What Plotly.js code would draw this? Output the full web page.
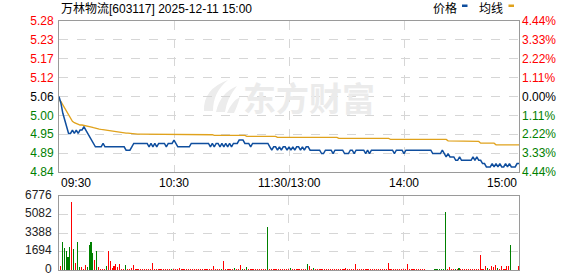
<!DOCTYPE html>
<html><head><meta charset="utf-8">
<script src="https://cdn.plot.ly/plotly-3.0.1.min.js"></script>
<style>html,body{margin:0;padding:0;background:#fff;overflow:hidden}#c{width:578px;height:276px}</style>
</head><body><div id="c"></div>
<script>
const chartTitle = "万林物流[603117] 2025-12-11 15:00";
const legendNames = ["价格", "均线"];
const preClose = 5.06;
const priceRange = [4.835, 5.285];
const priceLabels = ["4.84","4.89","4.95","5.00","5.06","5.12","5.17","5.23","5.28"];
const pctLabels = ["4.44%","3.33%","2.22%","1.11%","0.00%","1.11%","2.22%","3.33%","4.44%"];
const volTicks = [0, 1694, 3388, 5082, 6776];
const timeLabels = ["09:30", "10:30", "11:30/13:00", "14:00", "15:00"];
const timeMinutes = [0, 60, 120, 180, 240];

const price = [
5.06,5.04,5.01,4.99,4.97,4.95,4.95,4.96,4.95,4.96,
4.95,4.96,4.96,4.97,4.96,4.95,4.94,4.93,4.92,4.91,
4.91,4.91,4.91,4.92,4.91,4.91,4.91,4.91,4.91,4.91,
4.91,4.91,4.91,4.91,4.91,4.90,4.90,4.90,4.91,4.92,
4.92,4.92,4.92,4.92,4.92,4.92,4.92,4.91,4.92,4.91,
4.92,4.91,4.92,4.92,4.92,4.92,4.91,4.92,4.92,4.92,
4.93,4.92,4.91,4.91,4.91,4.91,4.91,4.91,4.91,4.92,
4.92,4.92,4.92,4.92,4.92,4.92,4.92,4.92,4.92,4.91,
4.92,4.91,4.92,4.92,4.91,4.92,4.91,4.92,4.91,4.92,
4.91,4.92,4.92,4.92,4.93,4.93,4.93,4.92,4.92,4.92,
4.91,4.92,4.92,4.92,4.92,4.92,4.92,4.92,4.92,4.92,
4.91,4.90,4.91,4.91,4.90,4.91,4.90,4.91,4.91,4.90,
4.91,4.90,4.91,4.90,4.91,4.91,4.90,4.91,4.90,4.91,
4.91,4.90,4.90,4.90,4.90,4.90,4.90,4.89,4.89,4.90,
4.90,4.90,4.90,4.89,4.90,4.90,4.90,4.90,4.90,4.89,
4.89,4.89,4.90,4.90,4.89,4.90,4.90,4.90,4.90,4.90,
4.89,4.90,4.89,4.90,4.90,4.90,4.90,4.90,4.90,4.90,
4.90,4.90,4.90,4.90,4.90,4.89,4.90,4.90,4.90,4.90,
4.89,4.90,4.90,4.90,4.90,4.90,4.90,4.90,4.90,4.90,
4.90,4.90,4.90,4.90,4.90,4.89,4.89,4.89,4.89,4.89,
4.90,4.89,4.88,4.89,4.88,4.88,4.88,4.87,4.87,4.88,
4.87,4.87,4.87,4.87,4.87,4.87,4.88,4.87,4.88,4.87,
4.87,4.86,4.86,4.85,4.85,4.85,4.86,4.85,4.86,4.85,
4.86,4.85,4.85,4.86,4.85,4.86,4.85,4.85,4.85,4.86,
4.86];

const avgPrice = [
5.050,5.045,5.035,5.025,5.016,5.005,4.996,4.986,4.982,4.979,
4.976,4.975,4.975,4.974,4.974,4.973,4.970,4.969,4.967,4.965,
4.964,4.963,4.962,4.961,4.960,4.959,4.958,4.957,4.956,4.955,
4.955,4.954,4.953,4.952,4.952,4.951,4.951,4.950,4.950,4.949,
4.949,4.948,4.948,4.948,4.948,4.948,4.948,4.948,4.948,4.948,
4.948,4.947,4.947,4.947,4.947,4.947,4.947,4.947,4.947,4.947,
4.947,4.947,4.947,4.947,4.946,4.946,4.946,4.946,4.946,4.946,
4.946,4.946,4.946,4.946,4.946,4.946,4.946,4.946,4.946,4.946,
4.946,4.944,4.944,4.944,4.944,4.944,4.944,4.944,4.944,4.944,
4.944,4.944,4.944,4.944,4.944,4.944,4.944,4.944,4.941,4.941,
4.941,4.941,4.941,4.941,4.941,4.941,4.941,4.941,4.941,4.941,
4.941,4.941,4.941,4.941,4.938,4.938,4.938,4.938,4.938,4.938,
4.938,4.938,4.938,4.938,4.938,4.938,4.938,4.938,4.938,4.938,
4.938,4.938,4.938,4.938,4.938,4.938,4.938,4.938,4.938,4.938,
4.938,4.938,4.938,4.938,4.938,4.938,4.935,4.935,4.935,4.935,
4.935,4.935,4.935,4.935,4.935,4.935,4.935,4.935,4.935,4.935,
4.935,4.935,4.935,4.935,4.935,4.935,4.935,4.935,4.935,4.935,
4.935,4.935,4.935,4.932,4.932,4.932,4.932,4.932,4.932,4.932,
4.932,4.932,4.932,4.932,4.932,4.932,4.932,4.932,4.932,4.932,
4.932,4.932,4.932,4.932,4.932,4.932,4.932,4.932,4.932,4.932,
4.932,4.932,4.932,4.928,4.928,4.928,4.928,4.928,4.928,4.926,
4.926,4.926,4.926,4.926,4.926,4.926,4.926,4.926,4.926,4.926,
4.921,4.921,4.921,4.921,4.921,4.921,4.921,4.921,4.916,4.916,
4.916,4.916,4.916,4.916,4.916,4.916,4.916,4.916,4.916,4.916,
4.916];

const volume = [
400,2610,2030,1780,1230,2150,6200,1930,615,2520,
250,300,90,490,250,2330,2610,1535,950,1780,
300,120,90,70,400,1780,800,150,400,580,
250,520,90,70,460,90,60,180,490,120,
90,100,90,120,90,100,70,90,675,90,
100,90,70,120,90,100,90,90,100,90,
120,90,210,90,100,90,90,120,90,100,
90,100,90,90,100,90,90,100,90,90,
400,90,100,90,90,800,90,100,90,90,
90,150,90,100,490,90,90,300,90,100,
90,90,100,90,90,100,90,90,3900,90,
100,90,90,100,90,90,100,90,90,100,
200,90,100,90,90,100,90,90,100,580,
400,90,210,90,100,90,90,100,90,90,
100,90,90,100,90,120,90,90,100,150,
90,100,90,90,580,90,100,90,90,100,
90,90,100,90,90,100,90,90,100,90,
90,675,90,100,90,90,100,90,90,100,
90,580,90,100,90,90,100,90,90,100,
90,0,0,0,0,90,100,90,90,100,
90,5280,90,275,100,90,120,90,150,90,
120,90,100,100,100,90,90,100,90,1410,
90,100,400,200,90,400,250,490,200,120,
340,90,100,400,340,2330,0,0,0,340];

const side =
"udddddudud" + "duuuddddud" + "uuuuduuuuu" + "uuuuduuuuu" +
"uuuuuuuuuu" + "uuuuuuuudu" + "uuuuuuuuuu" + "uuuuuuuuuu" +
"uuuuduuuuu" + "uduuududuu" + "uuuuuuuudu" + "uuuuuuuuuu" +
"duuuuuuuud" + "uuduuuuuuu" + "uuuuuuuuuu" + "uuuuuuuuuu" +
"uuuuuuuuuu" + "uuuuuuuuuu" + "uuuuuuuuuu" + "uuuuuddddd" +
"dduuuududu" + "uuuuuuuuuu" + "uuuduuuudu" + "uuuuuduuuu";

const RED = "#ff0000", GREEN = "#008000", BLACK = "#000000";
const FONT = "Liberation Sans, Arial, Noto Sans CJK SC, sans-serif";

const minutes = price.map((_, i) => i);
const barIdx = volume.map((_, i) => i);
const barColors = volume.map((_, i) => side[i] === "d" ? GREEN : RED);

const nT = priceLabels.length;
const tickVals = priceLabels.map((_, k) => priceRange[0] + k * (priceRange[1] - priceRange[0]) / (nT - 1));
const mid = (nT - 1) / 2;
const colorFor = k => k > mid ? RED : (k < mid ? GREEN : BLACK);
const leftText = priceLabels.map((t, k) => `<span style="color:${colorFor(k)}">${t}</span>`);
const rightText = pctLabels.map((t, k) => `<span style="color:${colorFor(k)}">${t}</span>`);

const traces = [
  {x: minutes, y: avgPrice, type: "scatter", mode: "lines", line: {color: "#e0a21c", width: 1.3}, xaxis: "x", yaxis: "y", hoverinfo: "skip"},
  {x: minutes, y: price, type: "scatter", mode: "lines", line: {color: "#0f4e9e", width: 1.5}, xaxis: "x", yaxis: "y", hoverinfo: "skip"},
  {x: minutes, y: price, type: "scatter", mode: "lines", line: {width: 0}, opacity: 0, xaxis: "x", yaxis: "y3", hoverinfo: "skip"},
  {x: barIdx, y: volume, type: "bar", marker: {color: barColors, line: {width: 0}}, width: 0.55, xaxis: "x2", yaxis: "y2", hoverinfo: "skip"}
];

const gridCol = "#d6d6d6";
const frameCol = "#9a9a9a";
const H = 249, TOP = 21;
const py = px => (TOP + H - px) / H;   // pixel row -> paper y
const pxX = px => (px - 59) / 460;     // pixel col -> paper x

const volDomain = [0, py(196)];
const volRange = [0, 6776];
const volToPaper = v => volDomain[0] + (v - volRange[0]) / (volRange[1] - volRange[0]) * (volDomain[1] - volDomain[0]);

const annotations = [
  {text: chartTitle, xref: "paper", yref: "paper", x: 0, y: py(9), xanchor: "left", yanchor: "middle", showarrow: false, font: {size: 12, color: BLACK, family: FONT}},
  {text: legendNames[0], xref: "paper", yref: "paper", x: pxX(431), y: py(8.5), xanchor: "left", yanchor: "middle", showarrow: false, font: {size: 12, color: BLACK, family: FONT}},
  {text: legendNames[1], xref: "paper", yref: "paper", x: pxX(477), y: py(8.5), xanchor: "left", yanchor: "middle", showarrow: false, font: {size: 12, color: BLACK, family: FONT}},
  {text: "<b>东方财富</b>", xref: "paper", yref: "paper", x: pxX(309), y: py(97), xanchor: "center", yanchor: "middle", showarrow: false, font: {size: 33, color: "#ebebeb", family: "Noto Sans CJK SC, sans-serif"}}
];
const anchors = ["left", "center", "center", "center", "right"];
timeLabels.forEach((t, k) => annotations.push({
  text: t, xref: "x", yref: "paper", x: timeMinutes[k], y: py(182.5), xanchor: anchors[k], yanchor: "middle",
  showarrow: false, font: {size: 12, color: BLACK, family: FONT}
}));
// volume axis labels placed via the volume axis scale (bottom-anchored so the lowest one stays inside the page)
volTicks.forEach(v => annotations.push({
  text: String(v), xref: "paper", yref: "paper", x: pxX(53), y: volToPaper(v) - 6.5 / H, xanchor: "right", yanchor: "bottom",
  showarrow: false, borderpad: 0, font: {size: 12, color: "#222", family: FONT}
}));

// faint watermark logo (decorative), built from pixel points
const P = (x, y) => `${pxX(x)},${py(y)}`;
const blade = pts => `M ${P(pts[0], pts[1])} Q ${P(pts[2], pts[3])} ${P(pts[4], pts[5])} Q ${P(pts[6], pts[7])} ${P(pts[8], pts[9])} Z`;
const logoBlades = [
  [204, 111, 203, 89, 228, 80, 213, 92, 213, 111],
  [216, 112, 220, 93, 237, 86, 227, 98, 225, 112],
  [227, 113, 232, 101, 240, 97, 237, 107, 234, 113]
];

const shapes = [
  {type: "rect", xref: "paper", yref: "paper", x0: pxX(462), x1: pxX(467.5), y0: py(7), y1: py(4.5), fillcolor: "#0f4e9e", line: {width: 0}},
  {type: "rect", xref: "paper", yref: "paper", x0: pxX(508.5), x1: pxX(514), y0: py(7), y1: py(4.5), fillcolor: "#e0a21c", line: {width: 0}}
].concat(logoBlades.map(b => ({type: "path", xref: "paper", yref: "paper", path: blade(b), fillcolor: "#ececec", line: {width: 0}, layer: "below"})));

const layout = {
  width: 578, height: 276,
  margin: {l: 59, r: 59, t: TOP, b: 276 - TOP - H},
  paper_bgcolor: "#fff", plot_bgcolor: "rgba(0,0,0,0)",
  showlegend: false,
  font: {family: FONT, size: 12, color: BLACK},
  xaxis: {domain: [0, 1], anchor: "y", range: [0, 240], tickvals: [60, 120, 180], showticklabels: false, ticks: "",
          showgrid: true, gridcolor: gridCol, griddash: "dash", gridwidth: 1, zeroline: false,
          showline: true, mirror: true, linecolor: frameCol, linewidth: 1},
  yaxis: {domain: [py(172), 1], anchor: "x", range: priceRange, tickvals: tickVals, ticktext: leftText, ticks: "",
          ticklabelstandoff: 2,
          showgrid: true, gridcolor: gridCol, griddash: "dash", gridwidth: 1, zeroline: false,
          showline: true, mirror: true, linecolor: frameCol, linewidth: 1, tickfont: {size: 12, family: FONT}},
  yaxis3: {overlaying: "y", side: "right", anchor: "x", range: priceRange, tickvals: tickVals, ticktext: rightText, ticks: "",
           ticklabelstandoff: 2, showgrid: false, zeroline: false, showline: false, tickfont: {size: 12, family: FONT}},
  xaxis2: {domain: [0, 1], anchor: "y2", range: [-0.7, 239.3], tickvals: [59, 119, 179], showticklabels: false, ticks: "",
           showgrid: true, gridcolor: gridCol, griddash: "dash", gridwidth: 1, zeroline: false,
           showline: true, mirror: true, linecolor: frameCol, linewidth: 1},
  yaxis2: {domain: volDomain, anchor: "x2", range: volRange, tickvals: volTicks, showticklabels: false, ticks: "",
           showgrid: true, gridcolor: gridCol, griddash: "dash", gridwidth: 1, zeroline: false,
           showline: true, mirror: true, linecolor: frameCol, linewidth: 1},
  bargap: 0,
  annotations: annotations,
  shapes: shapes
};

Plotly.newPlot("c", traces, layout, {staticPlot: true, displayModeBar: false});
</script>
</body></html>
